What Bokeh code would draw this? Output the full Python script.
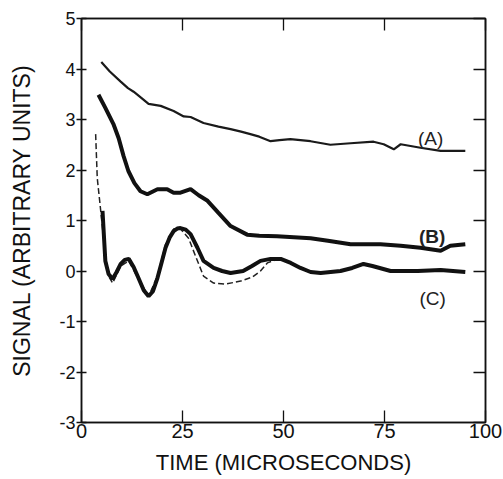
from bokeh.plotting import figure
from bokeh.models import Range1d, LinearAxis, FixedTicker
from bokeh.core.properties import value
from bokeh.embed import file_html
from bokeh.resources import INLINE

FONT = "Liberation Sans"

# ---- data ----
a_x = [4.9, 7.0, 9.7, 11.5, 12.9, 14.8, 16.6, 19.6, 22.8, 25.3, 27.0, 30.2, 33.9, 36.9, 39.5, 41.8,
       44.0, 46.8, 49.0, 51.7, 56.7, 61.6, 66.6, 72.3, 74.8, 77.3, 79.0, 83.9, 88.9, 95.0]
a_y = [4.14, 3.95, 3.75, 3.62, 3.55, 3.43, 3.31, 3.27, 3.17, 3.06, 3.05, 2.93, 2.86, 2.81, 2.76, 2.71,
       2.66, 2.57, 2.59, 2.61, 2.57, 2.50, 2.53, 2.56, 2.51, 2.41, 2.51, 2.44, 2.38, 2.38]

b_x = [4.2, 5.9, 7.9, 9.2, 10.4, 11.6, 13.1, 14.6, 16.3, 18.8, 21.2, 22.8, 24.5, 27.0, 29.0,
       31.2, 33.9, 36.9, 41.0, 44.0, 48.4, 56.7, 61.0, 66.6, 74.0, 79.0, 83.9, 88.9, 91.3, 95.0]
b_y = [3.49, 3.23, 2.91, 2.63, 2.28, 1.98, 1.74, 1.58, 1.52, 1.62, 1.62, 1.55, 1.55, 1.62, 1.50,
       1.39, 1.15, 0.89, 0.72, 0.70, 0.69, 0.65, 0.60, 0.53, 0.53, 0.50, 0.46, 0.40, 0.50, 0.53]

c_x = [5.2, 5.9, 6.7, 7.7, 8.7, 9.7, 10.7, 11.7, 12.9, 14.1, 15.4, 16.6, 17.7, 18.8, 19.8, 20.8,
       21.8, 22.8, 23.7, 24.5, 25.8, 27.0, 28.7, 30.2, 32.7, 34.8, 36.9, 40.0, 42.2, 44.3, 46.8,
       49.3, 51.8, 54.2, 56.7, 59.2, 64.1, 67.0, 69.8, 72.0, 76.5, 83.2, 88.9, 95.0]
c_y = [1.19, 0.20, -0.06, -0.16, -0.02, 0.14, 0.22, 0.24, 0.08, -0.14, -0.38, -0.50, -0.40, -0.14, 0.16, 0.46,
       0.66, 0.79, 0.84, 0.85, 0.82, 0.73, 0.46, 0.20, 0.06, 0.00, -0.04, 0.00, 0.10, 0.20, 0.24,
       0.24, 0.16, 0.06, -0.02, -0.04, 0.00, 0.06, 0.14, 0.10, 0.00, 0.00, 0.02, -0.02]

d_x = [3.5, 3.9, 4.5, 5.2, 5.9, 6.7, 7.7, 9.7, 11.7, 14.1, 16.6, 18.8, 20.8, 22.8, 24.3, 26.5,
       28.2, 30.2, 32.7, 35.6, 39.4, 42.3, 44.3, 46.0, 48.0]
d_y = [2.71, 1.84, 1.39, 0.85, 0.30, -0.10, -0.24, 0.10, 0.20, -0.16, -0.50, -0.10, 0.53, 0.83, 0.85, 0.65,
       0.30, -0.10, -0.24, -0.26, -0.20, -0.12, 0.00, 0.16, 0.22]

curve_labels = ["(A)", "(B)", "(C)"]
label_x = [86.4, 86.8, 86.9]
label_y = [2.63, 0.69, -0.55]
label_weight = ["normal", "bold", "normal"]

x_ticks = [0, 25, 50, 75, 100]
y_ticks = [-3, -2, -1, 0, 1, 2, 3, 4, 5]
y_tick_text = ["-3", "-2", "-1", "0", "1", "2", "3", "4", "5"]
x_title = "TIME (MICROSECONDS)"
y_title = "SIGNAL (ARBITRARY UNITS)"

# ---- figure ----
p = figure(width=503, height=479, x_range=Range1d(0, 100), y_range=Range1d(-3, 5),
           x_axis_type=None, y_axis_type=None,
           output_backend="svg", toolbar_location=None,
           min_border_left=81, min_border_right=18, min_border_top=18, min_border_bottom=57)
p.outline_line_color = "#111111"
p.outline_line_width = 1.5
p.background_fill_color = "white"
p.border_fill_color = "white"

def style(ax):
    ax.axis_line_color = "#111111"
    ax.axis_line_width = 1.5
    ax.major_tick_line_color = "#111111"
    ax.major_tick_line_width = 1.3
    ax.minor_tick_line_color = "#111111"
    ax.minor_tick_line_width = 1.3
    ax.major_label_text_font = FONT
    ax.major_label_text_color = "#111111"
    ax.axis_label_text_font = FONT
    ax.axis_label_text_font_style = "normal"
    ax.axis_label_text_color = "#111111"

bottom = LinearAxis(ticker=FixedTicker(ticks=x_ticks), axis_label=x_title)
style(bottom)
bottom.major_tick_in = 12
bottom.major_tick_out = 0
bottom.major_label_text_font_size = "20px"
bottom.major_label_standoff = 1
bottom.axis_label_text_font_size = "22px"
bottom.axis_label_standoff = 9
p.add_layout(bottom, "below")

top = LinearAxis(ticker=FixedTicker(ticks=[], minor_ticks=x_ticks))
style(top)
top.minor_tick_in = 12
top.minor_tick_out = 0
p.add_layout(top, "above")

left = LinearAxis(ticker=FixedTicker(ticks=y_ticks), axis_label=y_title)
style(left)
left.major_tick_in = 5
left.major_tick_out = 5
left.major_label_text_font_size = "18px"
left.major_label_standoff = 1
left.major_label_overrides = dict(zip(y_ticks, y_tick_text))
left.axis_label_text_font_size = "23px"
left.axis_label_standoff = 21
p.add_layout(left, "left")

right = LinearAxis(ticker=FixedTicker(ticks=[], minor_ticks=y_ticks))
style(right)
right.minor_tick_in = 12
right.minor_tick_out = 0
p.add_layout(right, "right")

# ---- curves ----
p.line(a_x, a_y, line_color="#1a1a1a", line_width=2.2)
p.line(b_x, b_y, line_color="#111111", line_width=4)
p.line(d_x, d_y, line_color="#222222", line_width=1.5, line_dash="6 3")
p.line(c_x, c_y, line_color="#111111", line_width=4)

p.text(x=label_x, y=label_y, text=curve_labels, text_font=value(FONT),
       text_font_size="19px", text_font_style=label_weight,
       text_align="center", text_baseline="alphabetic", text_color="#222222")

open("out.html", "w").write(file_html(p, INLINE))
